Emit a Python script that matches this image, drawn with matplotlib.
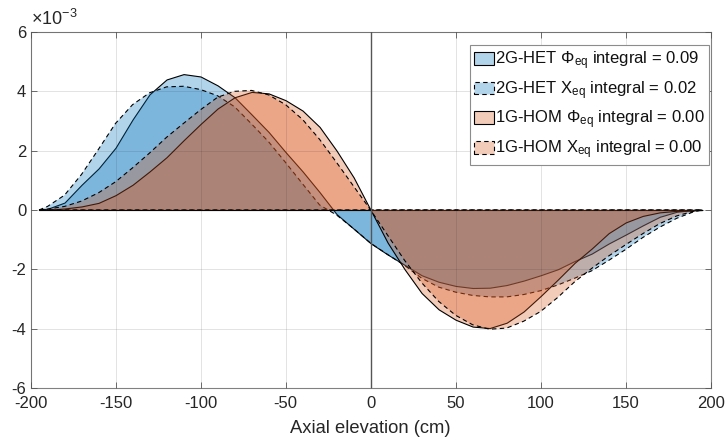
import matplotlib
matplotlib.use("Agg")
import matplotlib.pyplot as plt
from matplotlib.patches import Patch

plt.rcParams['font.family'] = ['Liberation Sans', 'DejaVu Sans']
plt.rcParams['mathtext.fontset'] = 'custom'
plt.rcParams['mathtext.rm'] = 'Liberation Sans'
plt.rcParams['mathtext.it'] = 'Liberation Sans:italic'
plt.rcParams['mathtext.default'] = 'regular'
plt.rcParams['axes.unicode_minus'] = False

# ---- data (values in units of 1e-3) ----
x = [-195, -190, -180, -170, -160, -150, -140, -130, -120, -110, -100,
     -90, -80, -70, -60, -50, -40, -30, -20, -10, 0,
     10, 20, 30, 40, 50, 60, 70, 80, 90, 100,
     110, 120, 130, 140, 150, 160, 170, 180, 190, 195]

het_phi = [0.0, 0.04, 0.25, 0.85, 1.40, 2.10, 3.05, 3.90, 4.40, 4.58, 4.50,
           4.20, 3.80, 3.22, 2.63, 1.95, 1.30, 0.60, -0.14, -0.63, -1.12,
           -1.50, -1.85, -2.20, -2.42, -2.56, -2.63, -2.62, -2.53, -2.38, -2.20,
           -2.00, -1.72, -1.47, -1.13, -0.83, -0.52, -0.23, -0.06, 0.0, 0.0]

het_x = [0.0, 0.12, 0.50, 1.20, 2.05, 2.92, 3.55, 3.95, 4.15, 4.17, 4.06,
         3.85, 3.48, 2.90, 2.30, 1.60, 0.88, 0.17, -0.17, -0.63, -1.12,
         -1.50, -1.87, -2.30, -2.60, -2.77, -2.88, -2.93, -2.93, -2.85, -2.72,
         -2.53, -2.30, -2.05, -1.70, -1.33, -0.93, -0.58, -0.28, -0.06, 0.0]

hom_phi = [0.0, 0.01, 0.05, 0.12, 0.24, 0.50, 0.85, 1.30, 1.78, 2.35, 2.90,
           3.42, 3.80, 3.98, 3.93, 3.70, 3.35, 2.80, 2.00, 1.10, 0.0,
           -1.10, -2.00, -2.80, -3.35, -3.70, -3.93, -3.98, -3.80, -3.42, -2.90,
           -2.35, -1.78, -1.30, -0.78, -0.42, -0.20, -0.08, -0.03, -0.01, 0.0]

hom_x = [0.0, 0.03, 0.12, 0.30, 0.58, 0.95, 1.42, 1.92, 2.45, 2.92, 3.38,
         3.80, 4.00, 4.03, 3.88, 3.55, 3.05, 2.38, 1.60, 0.80, 0.0,
         -0.85, -1.70, -2.45, -3.08, -3.55, -3.87, -4.02, -3.98, -3.75, -3.42,
         -2.95, -2.42, -1.97, -1.55, -1.17, -0.80, -0.46, -0.20, -0.04, 0.0]

labels = [r'2G-HET $\Phi_{eq}$ integral = 0.09',
          r'2G-HET X$_{eq}$ integral = 0.02',
          r'1G-HOM $\Phi_{eq}$ integral = 0.00',
          r'1G-HOM X$_{eq}$ integral = 0.00']

xticks = [-200, -150, -100, -50, 0, 50, 100, 150, 200]
yticks = [-6, -4, -2, 0, 2, 4, 6]

blue = (0.0, 0.447, 0.741)
orange = (0.85, 0.325, 0.098)
dash = (0, (4, 3))

fig = plt.figure(figsize=(7.25, 4.43), dpi=100)
ax = fig.add_axes([0.0421, 0.1242, 0.9382, 0.8036])

series = [(het_phi, blue, '-'), (het_x, blue, dash),
          (hom_phi, orange, '-'), (hom_x, orange, dash)]
handles = []
for (y, c, ls), lab in zip(series, labels):
    ax.fill_between(x, y, 0, facecolor=(*c, 0.3), edgecolor='black',
                    linestyle=ls, linewidth=0.8)
    handles.append(Patch(facecolor=(*c, 0.3), edgecolor='black',
                         linestyle=ls, linewidth=0.8, label=lab))

ax.axvline(0, color='#555555', lw=1.0, zorder=3)

ax.set_xlim(-200, 200)
ax.set_ylim(-6, 6)
ax.set_xticks(xticks)
ax.set_yticks(yticks)
ax.set_xticklabels([str(v) for v in xticks])
ax.set_yticklabels([str(v) for v in yticks])
ax.tick_params(direction='in', length=4, width=0.6, color='#555555',
               labelcolor='#262626', labelsize=12, top=True, right=True)
ax.tick_params(axis='x', pad=6)
ax.tick_params(axis='y', pad=3)
ax.set_axisbelow(False)
ax.grid(True, color='#262626', alpha=0.13, lw=0.7)
for s in ax.spines.values():
    s.set_color('#808080')
    s.set_linewidth(0.8)

ax.set_xlabel('Axial elevation (cm)', fontsize=13.2, color='#262626', labelpad=6)
ax.text(0.0, 1.008, r'$\times$10$^{-3}$', transform=ax.transAxes,
        ha='left', va='bottom', fontsize=13, color='#262626')

leg = ax.legend(handles=handles, loc='upper right', bbox_to_anchor=(0.998, 0.963),
                borderaxespad=0, fontsize=12, frameon=True, fancybox=False,
                framealpha=1, edgecolor='#8c8c8c', handlelength=1.2,
                handleheight=0.8, handletextpad=0.1, labelspacing=0.42,
                borderpad=0.25)
leg.get_frame().set_linewidth(0.8)
for t in leg.get_texts():
    t.set_color('#111111')

fig.savefig('out.png', dpi=100)
